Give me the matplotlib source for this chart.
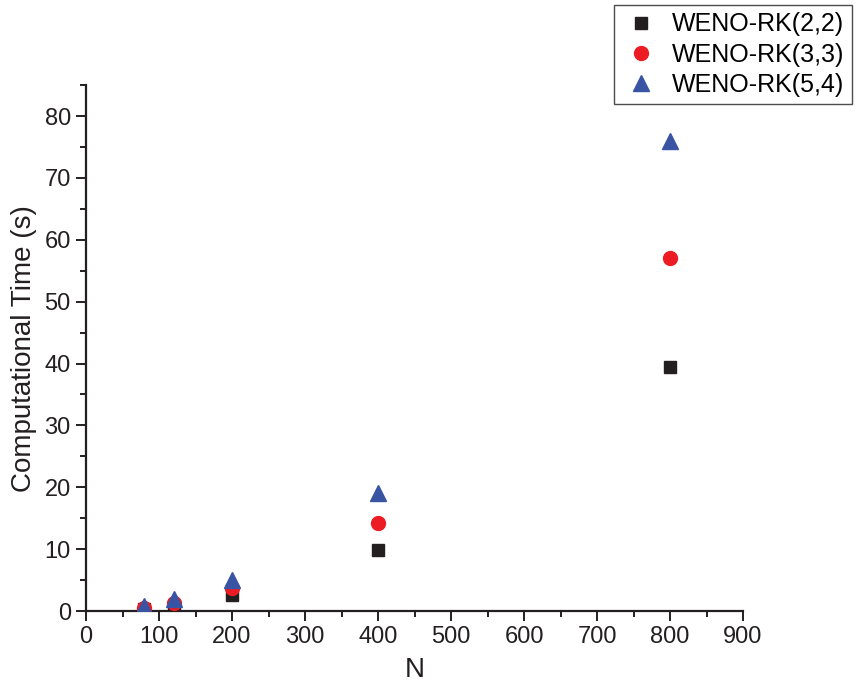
import matplotlib
matplotlib.use('Agg')
import matplotlib.pyplot as plt
from matplotlib.ticker import MultipleLocator

plt.rcParams['font.family'] = ['Liberation Sans', 'DejaVu Sans']

N = [80, 120, 200, 400, 800]
t_rk22 = [0.3, 0.8, 2.6, 9.8, 39.4]
t_rk33 = [0.5, 1.3, 3.8, 14.3, 57.1]
t_rk54 = [0.8, 2.0, 5.0, 19.0, 76.0]
labels = ['WENO-RK(2,2)', 'WENO-RK(3,3)', 'WENO-RK(5,4)']

fig = plt.figure(figsize=(8.56, 6.92), dpi=100)
ax = fig.add_axes([0.1005, 0.117, 0.7675, 0.760])

ax.plot(N, t_rk22, 's', color='#231f20', ms=9, label=labels[0], zorder=3)
ax.plot(N, t_rk33, 'o', color='#ed1c24', ms=10, label=labels[1], zorder=3)
ax.plot(N, t_rk54, '^', color='#3a54a4', ms=11, label=labels[2], zorder=3)

ax.set_xlim(0, 900)
ax.set_ylim(0, 85)
ax.xaxis.set_major_locator(MultipleLocator(100))
ax.xaxis.set_minor_locator(MultipleLocator(50))
ax.set_yticks(range(0, 81, 10))
ax.yaxis.set_minor_locator(MultipleLocator(5))

for s in ['top', 'right']:
    ax.spines[s].set_visible(False)
for s in ['left', 'bottom']:
    ax.spines[s].set_linewidth(1.6)
    ax.spines[s].set_color('#231f20')

ax.tick_params(which='major', direction='out', length=7, width=1.4, labelsize=17,
               colors='#231f20', pad=4)
ax.tick_params(which='minor', direction='out', length=4, width=1.4, colors='#231f20')

ax.set_xlabel('N', fontsize=20, color='#231f20', labelpad=6)
ax.set_ylabel('Computational Time (s)', fontsize=20, color='#231f20', labelpad=5)

leg = fig.legend(loc='upper right', bbox_to_anchor=(0.995, 0.993), fontsize=18,
                 frameon=True, fancybox=False, edgecolor='#231f20', handletextpad=0.5,
                 borderpad=0.3, labelspacing=0.25, handlelength=1.5, borderaxespad=0)
leg.get_frame().set_linewidth(1.0)

fig.savefig('out.png', dpi=100)
